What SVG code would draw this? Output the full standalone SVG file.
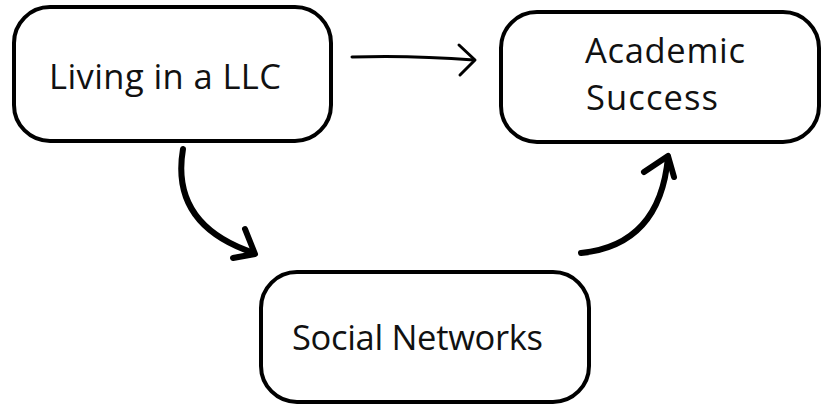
<svg xmlns="http://www.w3.org/2000/svg" width="823" height="405" viewBox="0 0 823 405">
<style>
.box{fill:#fff;stroke:#000;stroke-width:4}
.lbl{font-family:"Open Sans","Noto Sans",sans-serif;font-size:34.5px;fill:#111}
.c{fill:none;stroke:#000;stroke-linecap:round;stroke-linejoin:round}
</style>
<rect width="823" height="405" fill="#fff"/>
<g id="living">
<rect class="box" x="14" y="7" width="317" height="134" rx="36"/>
<text class="lbl" x="49" y="89" textLength="232">Living in a LLC</text>
</g>
<g id="academic">
<rect class="box" x="501" y="12" width="318" height="130" rx="36"/>
<text class="lbl" x="585" y="63" textLength="160">Academic</text>
<text class="lbl" x="586" y="110" textLength="132">Success</text>
</g>
<g id="social">
<rect class="box" x="261" y="272" width="328" height="130" rx="36"/>
<text class="lbl" x="292" y="350" textLength="251">Social Networks</text>
</g>
<g id="connectors">
<path class="c" stroke-width="3" d="M352 57 Q410 55 474 60"/>
<path class="c" stroke-width="3" d="M459 45 L475 60 L460 75"/>
<path class="c" stroke-width="6" d="M183 149 Q170 225 254 253"/>
<path class="c" stroke-width="6" d="M245 229 L255 254 L233 258"/>
<path class="c" stroke-width="6" d="M581 253 Q660 245 668 157"/>
<path class="c" stroke-width="6" d="M644 172 L668 156 L674 177"/>
</g>
</svg>
